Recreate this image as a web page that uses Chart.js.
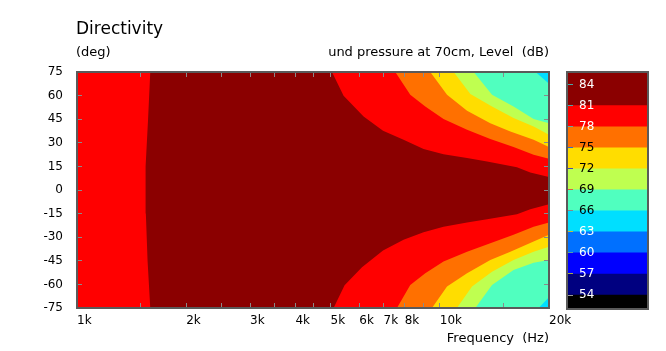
<!DOCTYPE html>
<html>
<head>
<meta charset="utf-8">
<script src="https://cdn.jsdelivr.net/npm/chart.js@4"></script>
<style>
  html, body { margin: 0; padding: 0; background: #fff; }
  #wrap { position: relative; width: 666px; height: 351px; overflow: hidden; }
  #main { position: absolute; left: 0; top: 0; }
  #barBox { position: absolute; left: 566px; top: 71px; width: 79px; height: 235px; border: 2px solid #5a5a5a; }
  #bar { display: block; }
</style>
</head>
<body>
<div id="wrap">
  <canvas id="main" width="666" height="351"></canvas>
  <div id="barBox"><canvas id="bar" width="79" height="235"></canvas></div>
</div>
<script>
// --- TEXTS ---
const chartTitle = 'Directivity';
const yUnit = '(deg)';
const zCaption = 'und pressure at 70cm, Level  (dB)';
const xTitle = 'Frequency  (Hz)';

// --- AXES ---
const freqMin = 1000, freqMax = 20000;
const angleMin = -75, angleMax = 75, angleStep = 15;
const xTickValues = [1000, 1500, 2000, 2500, 3000, 3500, 4000, 4500, 5000, 6000, 7000, 8000, 9000, 10000, 15000, 20000];
const xTickLabels = { 1000: '1k', 2000: '2k', 3000: '3k', 4000: '4k', 5000: '5k', 6000: '6k', 7000: '7k', 8000: '8k', 10000: '10k', 20000: '20k' };

// --- COLOUR SCALE (dB) ---
const levels = [54, 57, 60, 63, 66, 69, 72, 75, 78, 81, 84];
// band k runs from levels[k-1] to levels[k] (first: below 54, last: above 81)
const bandColors = ['#000000', '#000080', '#0000ff', '#0070ff', '#00dfff', '#50ffbf', '#bfff50', '#ffdd00', '#ff7000', '#ff0000', '#8b0000'];
const barMin = 52.15, barMax = 85.66;
const barTickColors = ['#999999', '#a8a848', '#55a0a0', '#c8b838', '#888888', '#e06040', '#4848b0', '#3868c8', '#60a8a8', '#48a8a8', '#48a8a8'];
const darkLabels = [66, 69, 72, 75];

// --- CONTOURS [Hz, deg] ---
const edge81Left = [[1592, 75], [1570, 45], [1548, 15], [1543, 0], [1548, -15], [1565, -45], [1592, -75]];
const edge81Top = [[5045, 75], [5430, 59.9], [6166, 46.7], [6975, 37.6], [7946, 31.9], [9022, 26.0], [10240, 22.8], [11890, 20.3], [13500, 18.1], [16320, 14.5], [17760, 11.1], [20000, 8.2]];
const edge81Bottom = [[5096, -75], [5465, -60.6], [6103, -49.1], [6975, -38.5], [7946, -31.7], [9022, -26.8], [10240, -23.3], [11890, -20.7], [13500, -18.6], [16320, -15.4], [17760, -12.2], [20000, -9.0]];
const edge78Top = [[7540, 75], [8291, 60.6], [9120, 53.1], [10240, 45.1], [11890, 38.3], [13780, 32.4], [15970, 27.3], [18140, 22.4], [20000, 19.8]];
const edge78Bottom = [[7620, -75], [8291, -60.4], [9120, -52.9], [10240, -45.5], [11890, -39.2], [13780, -33.8], [15970, -28.5], [18140, -23.3], [20000, -20.7]];
const edge75Top = [[9414, 75], [10470, 60.6], [11890, 50.4], [13780, 42.5], [15650, 37.2], [18140, 31.9], [20000, 27.3]];
const edge75Bottom = [[9517, -75], [10470, -61.4], [11890, -52.9], [13780, -44.5], [15650, -39.2], [18140, -32.8], [20000, -28.5]];
const edge72Top = [[10920, 75], [12140, 61.0], [13930, 53.1], [15970, 45.7], [18140, 40.4], [20000, 35.1]];
const edge72Bottom = [[11150, -75], [12270, -61.4], [13930, -51.9], [15970, -44.5], [18140, -39.2], [20000, -36.0]];
const edge69Top = [[12400, 75], [13930, 60.6], [15970, 53.1], [18140, 45.1], [20000, 42.5]];
const edge69Bottom = [[12530, -75], [13930, -60.4], [15970, -50.8], [18140, -46.2], [20000, -44.5]];
const edge66Top = [[18370, 75], [20000, 67.6]];
const edge66Bottom = [[18720, -75], [20000, -68.2]];

// --- BUILD FILLED REGIONS ---
const toPts = arr => arr.map(p => ({ x: p[0], y: p[1] }));
const cornerTop = edge => toPts([...edge, [freqMax, angleMax]]);
const cornerBottom = edge => toPts([...edge, [freqMax, angleMin]]);

const layers = [
  { pts: toPts([[freqMin, angleMax], [freqMax, angleMax], [freqMax, angleMin], [freqMin, angleMin]]), color: bandColors[9] },
  { pts: toPts([...edge81Top, ...edge81Bottom.slice().reverse(), ...edge81Left.slice().reverse()]), color: bandColors[10] },
  { pts: cornerTop(edge78Top), color: bandColors[8] },
  { pts: cornerBottom(edge78Bottom), color: bandColors[8] },
  { pts: cornerTop(edge75Top), color: bandColors[7] },
  { pts: cornerBottom(edge75Bottom), color: bandColors[7] },
  { pts: cornerTop(edge72Top), color: bandColors[6] },
  { pts: cornerBottom(edge72Bottom), color: bandColors[6] },
  { pts: cornerTop(edge69Top), color: bandColors[5] },
  { pts: cornerBottom(edge69Bottom), color: bandColors[5] },
  { pts: cornerTop(edge66Top), color: bandColors[4] },
  { pts: cornerBottom(edge66Bottom), color: bandColors[4] }
];

Chart.defaults.font.family = '"DejaVu Sans", Verdana, sans-serif';

// tick marks point into the plot and sit above the filled regions
const inwardTicks = { drawOnChartArea: false, drawTicks: true, tickLength: -5, color: '#8a8a8a', lineWidth: 1, z: 1 };
const frame = { display: true, color: '#5a5a5a', width: 2, z: 2 };
const setXTicks = s => { s.ticks = xTickValues.map(v => ({ value: v })); };

// titles and captions around the plot
const headerText = {
  id: 'headerText',
  afterDraw(chart) {
    const { ctx, chartArea: a } = chart;
    ctx.save();
    ctx.fillStyle = '#000';
    ctx.textBaseline = 'alphabetic';
    ctx.textAlign = 'left';
    ctx.font = '17px "DejaVu Sans"';
    ctx.fillText(chartTitle, a.left - 1, 34);
    ctx.font = '13px "DejaVu Sans"';
    ctx.fillText(yUnit, a.left - 1, 55.5);
    ctx.textAlign = 'right';
    ctx.fillText(zCaption, a.right, 55.5);
    ctx.fillText(xTitle, a.right, 342);
    ctx.restore();
  }
};

new Chart(document.getElementById('main'), {
  type: 'line',
  data: {
    datasets: layers.map((l, i) => ({
      data: l.pts,
      backgroundColor: l.color,
      borderWidth: 0,
      pointRadius: 0,
      tension: 0,
      fill: 'shape',
      order: -i
    }))
  },
  options: {
    responsive: false,
    animation: false,
    events: [],
    layout: { padding: { left: 0, top: 72, right: 117, bottom: 0 } },
    plugins: { legend: { display: false }, tooltip: { enabled: false } },
    scales: {
      x: {
        type: 'logarithmic', position: 'bottom', min: freqMin, max: freqMax,
        grid: inwardTicks, border: frame,
        afterBuildTicks: setXTicks,
        afterFit: s => { s.height = 43; },
        ticks: {
          autoSkip: false, maxRotation: 0, minRotation: 0, align: 'start', padding: 11,
          color: '#000', font: { size: 12 },
          callback: v => xTickLabels[v] || ''
        }
      },
      xTop: {
        type: 'logarithmic', position: 'top', min: freqMin, max: freqMax,
        grid: inwardTicks, border: frame,
        afterBuildTicks: setXTicks,
        afterFit: s => { s.height = 0; },
        ticks: { display: false }
      },
      y: {
        type: 'linear', position: 'left', min: angleMin, max: angleMax,
        grid: inwardTicks, border: frame,
        afterFit: s => { s.width = 77; },
        ticks: { stepSize: angleStep, padding: 19, color: '#000', font: { size: 12 } }
      },
      yRight: {
        type: 'linear', position: 'right', min: angleMin, max: angleMax,
        grid: inwardTicks, border: frame,
        afterFit: s => { s.width = 0; },
        ticks: { stepSize: angleStep, display: false }
      }
    }
  },
  plugins: [headerText]
});

// --- COLOUR BAR ---
new Chart(document.getElementById('bar'), {
  type: 'bar',
  data: {
    labels: ['dB'],
    datasets: bandColors.map((c, k) => ({
      data: [[k === 0 ? barMin : levels[k - 1], k === bandColors.length - 1 ? barMax : levels[k]]],
      backgroundColor: c,
      borderWidth: 0,
      grouped: false,
      barPercentage: 1,
      categoryPercentage: 1
    }))
  },
  options: {
    responsive: false,
    animation: false,
    events: [],
    layout: { padding: 0 },
    plugins: { legend: { display: false }, tooltip: { enabled: false } },
    scales: {
      x: { display: false },
      y: {
        min: barMin, max: barMax, position: 'left',
        afterFit: s => { s.width = 0; s.paddingTop = 0; s.paddingBottom = 0; },
        afterBuildTicks: s => { s.ticks = levels.map(v => ({ value: v })); },
        border: { display: false },
        grid: { drawOnChartArea: false, tickLength: -5, z: 1, color: c => barTickColors[levels.indexOf(c.tick.value)] },
        ticks: {
          mirror: true, padding: 11, z: 1, font: { size: 12 },
          color: c => darkLabels.includes(c.tick.value) ? '#000' : '#fff'
        }
      }
    }
  }
});
</script>
</body>
</html>
